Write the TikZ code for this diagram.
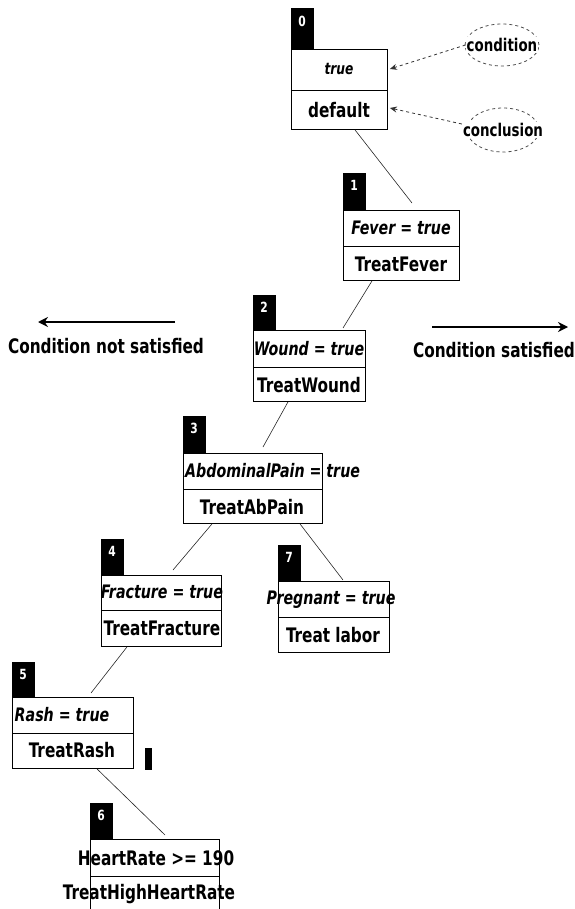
\documentclass[tikz,border=0pt]{standalone}
\usepackage{fontspec}
\setmainfont[FakeStretch=0.85]{DejaVu Sans Condensed}
\usetikzlibrary{calc,arrows.meta,shapes.geometric}
\begin{document}
\begin{tikzpicture}[x=1pt,y=-1pt,
  rbox/.style={draw=black, line width=0.9pt, anchor=north west, inner sep=0pt},
  tabbox/.style={fill=black, draw=black, anchor=south west, minimum width=22, inner sep=0pt},
  num/.style={text=white, font=\bfseries\fontsize{14}{16}\selectfont, inner sep=0pt},
  cond/.style={font=\bfseries\itshape\fontsize{18.6}{20}\selectfont, inner sep=0pt},
  concl/.style={font=\bfseries\fontsize{20}{22}\selectfont, inner sep=0pt},
  divline/.style={line width=0.9pt},
  edge/.style={draw=black!85, line width=0.6pt},
  annell/.style={ellipse, draw=black!70, dashed, line width=0.8pt, inner sep=0pt},
  anntext/.style={fill=white, font=\bfseries\fontsize{17.5}{19}\selectfont, inner sep=1pt},
  annarrow/.style={draw=black!80, dashed, line width=0.8pt, -{Stealth[length=7pt,width=6pt]}},
  bigarrow/.style={line width=2.6pt, -{Stealth[length=10pt,width=10pt]}},
  side/.style={font=\bfseries\fontsize{20}{22}\selectfont, inner sep=0pt}
]
\useasboundingbox (0,0) rectangle (574,909);

% box 0
\node[rbox, minimum width=96, minimum height=80] (b0) at (291,49) {};
\draw[divline] ($(b0.north west)+(0,41)$) -- ($(b0.north east)+(0,41)$);
\node[tabbox, minimum height=41] (t0) at (b0.north west) {};
\node[num] at ($(t0.north)+(0,14)$) {0};
\node[cond, font=\bfseries\itshape\fontsize{16}{18}\selectfont] at (339,69) {true};
\node[concl] at (339,110) {default};

% box 1
\node[rbox, minimum width=116, minimum height=70] (b1) at (343,210) {};
\draw[divline] ($(b1.north west)+(0,36)$) -- ($(b1.north east)+(0,36)$);
\node[tabbox, minimum height=37] (t1) at (b1.north west) {};
\node[num] at ($(t1.north)+(0,13)$) {1};
\node[cond] at (401,228) {Fever = true};
\node[concl] at (401,264) {TreatFever};

% box 2
\node[rbox, minimum width=112, minimum height=71] (b2) at (253,330) {};
\draw[divline] ($(b2.north west)+(0,37)$) -- ($(b2.north east)+(0,37)$);
\node[tabbox, minimum height=35] (t2) at (b2.north west) {};
\node[num] at ($(t2.north)+(0,13)$) {2};
\node[cond] at (309,349) {Wound = true};
\node[concl] at (309,385) {TreatWound};

% box 3
\node[rbox, minimum width=139, minimum height=70] (b3) at (183,453) {};
\draw[divline] ($(b3.north west)+(0,36)$) -- ($(b3.north east)+(0,36)$);
\node[tabbox, minimum height=37] (t3) at (b3.north west) {};
\node[num] at ($(t3.north)+(0,13)$) {3};
\node[cond, anchor=west] at (185,471) {AbdominalPain = true};
\node[concl] at (252,507) {TreatAbPain};

% box 4
\node[rbox, minimum width=120, minimum height=71] (b4) at (101,575) {};
\draw[divline] ($(b4.north west)+(0,35)$) -- ($(b4.north east)+(0,35)$);
\node[tabbox, minimum height=36] (t4) at (b4.north west) {};
\node[num] at ($(t4.north)+(0,13)$) {4};
\node[cond] at (162,592) {Fracture = true};
\node[concl] at (162,628) {TreatFracture};

% box 7
\node[rbox, minimum width=111, minimum height=71] (b7) at (278,581) {};
\draw[divline] ($(b7.north west)+(0,36)$) -- ($(b7.north east)+(0,36)$);
\node[tabbox, minimum height=36] (t7) at (b7.north west) {};
\node[num] at ($(t7.north)+(0,13)$) {7};
\node[cond] at (331,600) {Pregnant = true};
\node[concl] at (333,635) {Treat labor};

% box 5
\node[rbox, minimum width=121, minimum height=71] (b5) at (12,697) {};
\draw[divline] ($(b5.north west)+(0,36)$) -- ($(b5.north east)+(0,36)$);
\node[tabbox, minimum height=35] (t5) at (b5.north west) {};
\node[num] at ($(t5.north)+(0,13)$) {5};
\node[cond] at (62,715) {Rash = true};
\node[concl] at (72,750) {TreatRash};

% box 6
\node[rbox, minimum width=129, minimum height=80] (b6) at (90,839) {};
\draw[divline] ($(b6.north west)+(0,37)$) -- ($(b6.north east)+(0,37)$);
\node[tabbox, minimum height=36] (t6) at (b6.north west) {};
\node[num] at ($(t6.north)+(0,13)$) {6};
\node[concl] at (156,858) {HeartRate >= 190};
\node[concl] at (149,894) {TreatHighHeartRate};

% small black mark
\fill (145,748) rectangle (152,770);

% edges
\draw[edge] ($(b0.south west)+(64,0)$) -- ($(b1.north west)+(69,-7)$);
\draw[edge] ($(b1.south west)+(29,0)$) -- ($(b2.north west)+(90,-2)$);
\draw[edge] ($(b2.south west)+(35,0)$) -- ($(b3.north west)+(80,-6)$);
\draw[edge] ($(b3.south west)+(29,0)$) -- ($(b4.north west)+(72,-5)$);
\draw[edge] ($(b3.south west)+(117,0)$) -- ($(b7.north west)+(65,-1)$);
\draw[edge] ($(b4.south west)+(26,0)$) -- ($(b5.north west)+(79,-4)$);
\draw[edge] ($(b5.south west)+(85,0)$) -- ($(b6.north west)+(75,-4)$);

% annotations
\node[annell, minimum width=74, minimum height=42] (ce) at (502,45) {};
\node[anntext] (ct) at (ce) {condition};
\node[annell, minimum width=72, minimum height=44] (ke) at (503,130) {};
\node[anntext] (kt) at (ke) {conclusion};
\draw[annarrow] (ct.west) -- ($(b0.north east)+(2,20)$);
\draw[annarrow] ($(kt.west)+(0,-6)$) -- ($(b0.north east)+(2,59)$);

% side arrows
\coordinate (la1) at (175,322);
\coordinate (la2) at (38,322);
\draw[bigarrow] (la1) -- (la2);
\node[side] (lt) at (106,346) {Condition not satisfied};
\coordinate (ra1) at (432,327);
\coordinate (ra2) at (568,327);
\draw[bigarrow] (ra1) -- (ra2);
\node[side] (rt) at (494,350) {Condition satisfied};
\end{tikzpicture}
\end{document}
